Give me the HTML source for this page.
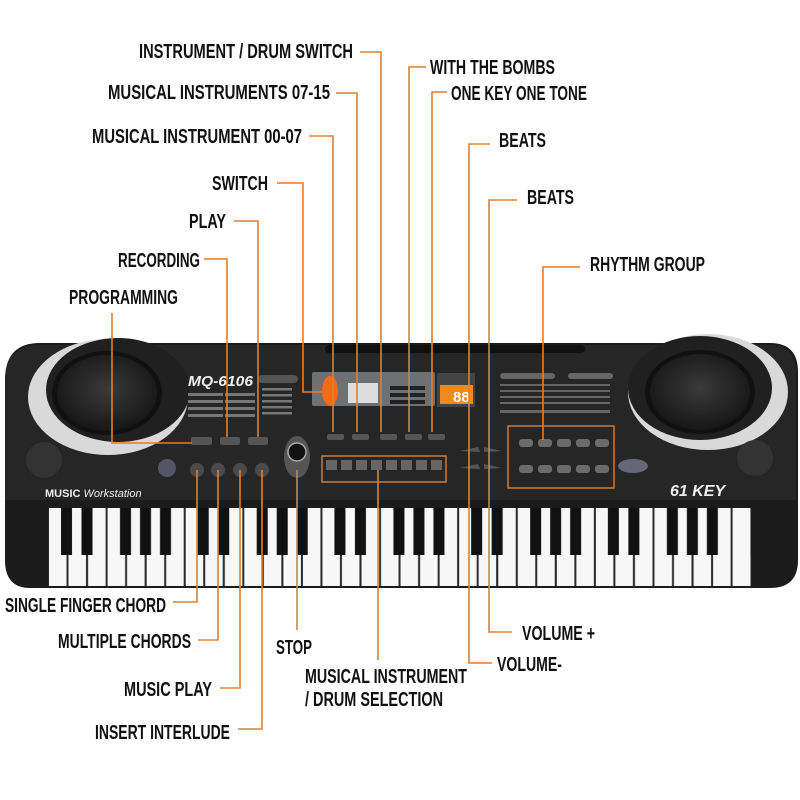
<!DOCTYPE html>
<html><head><meta charset="utf-8"><style>
html,body{margin:0;padding:0;background:#fff}
svg{display:block}
text{font-family:"Liberation Sans Narrow","Liberation Sans",sans-serif;font-weight:bold;font-size:20px;fill:#111}
</style></head><body>
<svg width="800" height="800" viewBox="0 0 800 800" xmlns="http://www.w3.org/2000/svg">
<defs>
<pattern id="oct" patternUnits="userSpaceOnUse" x="48" y="508" width="136.72" height="80">
<rect width="136.72" height="80" fill="#2a2a2a"/>
<rect x="1" y="0" width="17.5" height="78" fill="#f7f7f7"/>
<rect x="20.5" y="0" width="17.5" height="78" fill="#f7f7f7"/>
<rect x="40.1" y="0" width="17.5" height="78" fill="#f7f7f7"/>
<rect x="59.6" y="0" width="17.5" height="78" fill="#f7f7f7"/>
<rect x="79.1" y="0" width="17.5" height="78" fill="#f7f7f7"/>
<rect x="98.7" y="0" width="17.5" height="78" fill="#f7f7f7"/>
<rect x="118.2" y="0" width="17.5" height="78" fill="#f7f7f7"/>
<rect x="13" y="0" width="11" height="47" fill="#111"/>
<rect x="33.5" y="0" width="11" height="47" fill="#111"/>
<rect x="72" y="0" width="11" height="47" fill="#111"/>
<rect x="92" y="0" width="11" height="47" fill="#111"/>
<rect x="112" y="0" width="11" height="47" fill="#111"/>
</pattern>
<radialGradient id="spk" cx="50%" cy="45%" r="60%"><stop offset="0" stop-color="#3a3a3a"/><stop offset="1" stop-color="#141414"/></radialGradient>
</defs>

<path d="M40,343 L770,343 Q798,343 798,372 L798,560 Q798,588 770,588 L30,588 Q5,588 5,560 L5,380 Q5,343 40,343 Z" fill="#1c1c1c"/>
<path d="M40,345 L770,345 Q795,345 796,372 L796,500 L5,500 L5,380 Q6,345 40,345Z" fill="#262626"/>
<rect x="325" y="345" width="260" height="8" rx="4" fill="#111"/>
<ellipse cx="108" cy="397" rx="80" ry="58" fill="#d9d9d9"/>
<ellipse cx="118" cy="390" rx="72" ry="52" fill="#202020"/>
<ellipse cx="107" cy="393" rx="55" ry="42" fill="#111"/>
<ellipse cx="107" cy="393" rx="50" ry="38" fill="url(#spk)"/>
<circle cx="44" cy="460" r="18" fill="#333"/>
<ellipse cx="708" cy="392" rx="80" ry="58" fill="#d9d9d9"/>
<ellipse cx="700" cy="388" rx="72" ry="52" fill="#202020"/>
<ellipse cx="700" cy="392" rx="55" ry="42" fill="#111"/>
<ellipse cx="700" cy="392" rx="50" ry="38" fill="url(#spk)"/>
<circle cx="755" cy="458" r="18" fill="#333"/>
<text x="188" y="386" style="font-size:15px;font-style:italic;fill:#eee" textLength="65" lengthAdjust="spacingAndGlyphs">MQ-6106</text>
<rect x="258" y="375" width="40" height="8" rx="4" fill="#555"/>
<g fill="#777"><rect x="188" y="393" width="35" height="3"/><rect x="225" y="393" width="30" height="3"/><rect x="188" y="400" width="35" height="3"/><rect x="225" y="400" width="30" height="3"/><rect x="188" y="407" width="35" height="3"/><rect x="225" y="407" width="30" height="3"/><rect x="188" y="414" width="35" height="3"/><rect x="225" y="414" width="30" height="3"/>
<rect x="262" y="388" width="30" height="2.5"/><rect x="262" y="394" width="30" height="2.5"/><rect x="262" y="400" width="30" height="2.5"/><rect x="262" y="406" width="30" height="2.5"/><rect x="262" y="412" width="30" height="2.5"/></g>
<text x="45" y="497" style="font-size:11px;fill:#eee">MUSIC <tspan style="font-style:italic;font-weight:normal">Workstation</tspan></text>
<text x="670" y="496" style="font-size:16px;font-style:italic;fill:#eee">61 KEY</text>
<ellipse cx="633" cy="466" rx="15" ry="7" fill="#667"/>
<ellipse cx="167" cy="468" rx="9" ry="9" fill="#556"/>
<rect x="312" y="372" width="123" height="34" rx="2" fill="#6e7073"/>
<ellipse cx="330" cy="391" rx="8" ry="15" fill="#f26b15"/>
<rect x="348" y="383" width="30" height="20" fill="#ddd"/>
<g fill="#222"><rect x="390" y="386" width="35" height="4"/><rect x="390" y="393" width="35" height="4"/><rect x="390" y="400" width="35" height="4"/></g>
<rect x="437" y="373" width="38" height="34" fill="#444"/>
<rect x="440" y="385" width="33" height="19" fill="#f08a1c"/>
<text x="453" y="402" style="font-size:15px;fill:#fff">88</text>
<rect x="500" y="373" width="55" height="6" rx="3" fill="#666"/>
<rect x="568" y="373" width="45" height="6" rx="3" fill="#666"/>
<g fill="#666"><rect x="500" y="384" width="110" height="2"/><rect x="500" y="390" width="110" height="2"/><rect x="500" y="396" width="110" height="2"/><rect x="500" y="402" width="110" height="2"/><rect x="500" y="410" width="110" height="3"/></g>
<g fill="#555"><rect x="191" y="437" width="21" height="8" rx="2"/><rect x="220" y="437" width="20" height="8" rx="2"/><rect x="248" y="437" width="20" height="8" rx="2"/>
<rect x="327" y="434" width="17" height="6" rx="2"/><rect x="352" y="434" width="17" height="6" rx="2"/><rect x="380" y="434" width="17" height="6" rx="2"/><rect x="405" y="434" width="17" height="6" rx="2"/><rect x="428" y="434" width="17" height="6" rx="2"/>
<path d="M460,451 L478,447 L480,452Z"/><path d="M484,447 L502,451 L484,452Z"/><path d="M460,468 L478,464 L480,469Z"/><path d="M484,464 L502,468 L484,469Z"/></g>
<g fill="#4a4a4a"><circle cx="197" cy="470" r="7"/><circle cx="218" cy="470" r="7"/><circle cx="240" cy="470" r="7"/><circle cx="262" cy="470" r="7"/></g>
<ellipse cx="297" cy="457" rx="13" ry="21" fill="#555"/><circle cx="297" cy="452" r="9" fill="#111" stroke="#aaa" stroke-width="1.5"/>
<rect x="322" y="456" width="124" height="26" fill="none" stroke="#d07a30" stroke-width="1.5"/>
<g fill="#666"><rect x="326" y="460" width="11" height="10"/><rect x="341" y="460" width="11" height="10"/><rect x="356" y="460" width="11" height="10"/><rect x="371" y="460" width="11" height="10"/><rect x="386" y="460" width="11" height="10"/><rect x="401" y="460" width="11" height="10"/><rect x="416" y="460" width="11" height="10"/><rect x="431" y="460" width="11" height="10"/></g>
<rect x="508" y="426" width="106" height="62" fill="none" stroke="#d07a30" stroke-width="1.5"/>
<g fill="#6a6a6a"><rect x="519" y="439" width="14" height="8" rx="3"/><rect x="538" y="439" width="14" height="8" rx="3"/><rect x="557" y="439" width="14" height="8" rx="3"/><rect x="576" y="439" width="14" height="8" rx="3"/><rect x="595" y="439" width="14" height="8" rx="3"/>
<rect x="519" y="465" width="14" height="8" rx="3"/><rect x="538" y="465" width="14" height="8" rx="3"/><rect x="557" y="465" width="14" height="8" rx="3"/><rect x="576" y="465" width="14" height="8" rx="3"/><rect x="595" y="465" width="14" height="8" rx="3"/></g>
<rect x="48" y="508" width="703" height="78" fill="url(#oct)"/>
<rect x="733" y="508" width="17.5" height="78" fill="#f7f7f7"/>

<g fill="none" stroke="#e0802e" stroke-width="1.6">
<polyline points="360,52 381,52 381,432"/>
<polyline points="336,93 357,93 357,432"/>
<polyline points="309,136 333,136 333,432"/>
<polyline points="277,183 303,183 303,392 322,392"/>
<polyline points="234,221 258,221 258,437"/>
<polyline points="204,259 227,259 227,437"/>
<polyline points="112,313 112,443 192,443"/>
<polyline points="426,67 409,67 409,432"/>
<polyline points="447,92 432,92 432,432"/>
<polyline points="490,144 469,144 469,663 492,663"/>
<polyline points="517,200 489,200 489,632 512,632"/>
<polyline points="580,267 543,267 543,440"/>
<polyline points="173,602 197,602 197,470"/>
<polyline points="198,640 218,640 218,470"/>
<polyline points="220,688 240,688 240,470"/>
<polyline points="238,729 262,729 262,470"/>
<line x1="297" y1="470" x2="297" y2="630"/>
<line x1="378" y1="470" x2="378" y2="660"/>
</g>

<text x="139" y="58" textLength="214" lengthAdjust="spacingAndGlyphs">INSTRUMENT / DRUM SWITCH</text>
<text x="108" y="99" textLength="222" lengthAdjust="spacingAndGlyphs">MUSICAL INSTRUMENTS 07-15</text>
<text x="92" y="143" textLength="210" lengthAdjust="spacingAndGlyphs">MUSICAL INSTRUMENT 00-07</text>
<text x="212" y="190" textLength="56" lengthAdjust="spacingAndGlyphs">SWITCH</text>
<text x="189" y="228" textLength="37" lengthAdjust="spacingAndGlyphs">PLAY</text>
<text x="118" y="267" textLength="82" lengthAdjust="spacingAndGlyphs">RECORDING</text>
<text x="69" y="304" textLength="109" lengthAdjust="spacingAndGlyphs">PROGRAMMING</text>
<text x="430" y="74" textLength="125" lengthAdjust="spacingAndGlyphs">WITH THE BOMBS</text>
<text x="451" y="100" textLength="136" lengthAdjust="spacingAndGlyphs">ONE KEY ONE TONE</text>
<text x="499" y="147" textLength="47" lengthAdjust="spacingAndGlyphs">BEATS</text>
<text x="527" y="204" textLength="47" lengthAdjust="spacingAndGlyphs">BEATS</text>
<text x="590" y="271" textLength="115" lengthAdjust="spacingAndGlyphs">RHYTHM GROUP</text>
<text x="5" y="612" textLength="161" lengthAdjust="spacingAndGlyphs">SINGLE FINGER CHORD</text>
<text x="58" y="648" textLength="133" lengthAdjust="spacingAndGlyphs">MULTIPLE CHORDS</text>
<text x="124" y="696" textLength="88" lengthAdjust="spacingAndGlyphs">MUSIC PLAY</text>
<text x="95" y="739" textLength="135" lengthAdjust="spacingAndGlyphs">INSERT INTERLUDE</text>
<text x="276" y="654" textLength="36" lengthAdjust="spacingAndGlyphs">STOP</text>
<text x="305" y="683" textLength="162" lengthAdjust="spacingAndGlyphs">MUSICAL INSTRUMENT</text>
<text x="305" y="706" textLength="138" lengthAdjust="spacingAndGlyphs">/ DRUM SELECTION</text>
<text x="522" y="640" textLength="73" lengthAdjust="spacingAndGlyphs">VOLUME +</text>
<text x="497" y="671" textLength="65" lengthAdjust="spacingAndGlyphs">VOLUME-</text>
</svg>
</body></html>
